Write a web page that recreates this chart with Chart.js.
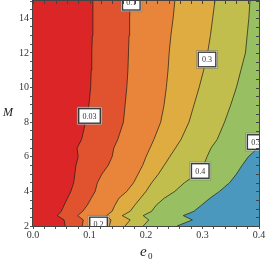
<!DOCTYPE html>
<html>
<head>
<meta charset="utf-8">
<script src="https://cdn.jsdelivr.net/npm/chart.js@4/dist/chart.umd.min.js"></script>
<style>
  html, body { margin: 0; padding: 0; background: #fff; }
  canvas { display: block; }
</style>
</head>
<body>
<canvas id="chart" width="266" height="261"></canvas>
<script>
const mGrid = [2, 2.35, 2.6, 2.85, 3.2, 3.6, 4, 4.5, 5, 5.5, 6, 6.5, 7, 8, 9, 10, 11, 12, 13, 14, 15];
// e0 position of each contour line
const e0Level003 = [0.057, 0.055, 0.043, 0.05, 0.055, 0.061, 0.067, 0.072, 0.074, 0.076, 0.08, 0.078, 0.086, 0.093, 0.099, 0.102, 0.103, 0.104, 0.105, 0.106, 0.106];
const e0Level01 = [0.087, 0.089, 0.079, 0.088, 0.096, 0.103, 0.11, 0.114, 0.122, 0.133, 0.14, 0.143, 0.15, 0.16, 0.163, 0.166, 0.168, 0.169, 0.17, 0.171, 0.172];
const e0Level02 = [0.135, 0.138, 0.13, 0.14, 0.145, 0.152, 0.166, 0.178, 0.186, 0.194, 0.2, 0.207, 0.214, 0.226, 0.232, 0.236, 0.239, 0.241, 0.244, 0.248, 0.251];
const e0Level03 = [0.163, 0.172, 0.158, 0.172, 0.18, 0.19, 0.2, 0.21, 0.222, 0.232, 0.242, 0.252, 0.262, 0.276, 0.285, 0.294, 0.302, 0.309, 0.314, 0.318, 0.322];
const e0Level04 = [0.195, 0.205, 0.195, 0.21, 0.218, 0.232, 0.251, 0.268, 0.29, 0.302, 0.308, 0.315, 0.326, 0.339, 0.35, 0.36, 0.368, 0.376, 0.379, 0.382, 0.384];
const e0Level05 = [0.255, 0.282, 0.266, 0.285, 0.298, 0.313, 0.33, 0.348, 0.36, 0.37, 0.381, 0.398, 0.41, 0.43, 0.45, 0.46, 0.47, 0.48, 0.49, 0.5, 0.5];
const levelNames = ["0.03", "0.1", "0.2", "0.3", "0.4", "0.5"];
// contour labels
const labelText = ["0.03", "0.1", "0.2", "0.3", "0.4", "0.5"];
const labelE0 = [0.1, 0.174, 0.116, 0.308, 0.296, 0.395];
const labelM = [8.36, 14.9, 2.09, 11.62, 5.18, 6.85];
// axes
const xMin = 0, xMax = 0.4, xStep = 0.02;
const yMin = 2, yMax = 15, yStep = 0.5;

const regionColors = ["#dc2526", "#e0532e", "#e8853a", "#dfac42", "#c1be4e", "#98c062", "#4b98bf"];
const serif = "'Liberation Serif', 'DejaVu Serif', serif";

const levels = [e0Level003, e0Level01, e0Level02, e0Level03, e0Level04, e0Level05];
const datasets = levels.map((vals, i) => ({
  label: levelNames[i],
  data: mGrid.map((m, j) => ({ x: vals[j], y: m })),
  borderColor: "rgba(35,30,25,0.9)",
  borderWidth: 0.8,
  pointRadius: 0,
  tension: 0,
  fill: { value: 1 },
  backgroundColor: regionColors[i + 1],
  order: levels.length - i,
}));

const bgPlugin = {
  id: "lowest_region",
  beforeDatasetsDraw: (chart) => {
    const { ctx, chartArea: a } = chart;
    ctx.save();
    ctx.fillStyle = regionColors[0];
    ctx.fillRect(a.left, a.top, a.right - a.left, a.bottom - a.top);
    ctx.restore();
  },
};

const overlayPlugin = {
  id: "labels_and_frame",
  afterDatasetsDraw: (chart) => {
    const { ctx, chartArea: a } = chart;
    const xs = chart.scales.x, ys = chart.scales.y;
    ctx.save();
    ctx.beginPath();
    ctx.rect(a.left, a.top, a.right - a.left, a.bottom - a.top);
    ctx.clip();
    ctx.font = "8px " + serif;
    ctx.textAlign = "center";
    ctx.textBaseline = "middle";
    labelText.forEach((t, i) => {
      const px = xs.getPixelForValue(labelE0[i]);
      const py = ys.getPixelForValue(labelM[i]);
      const w = ctx.measureText(t).width + 10;
      const h = 17;
      ctx.fillStyle = "#fff";
      ctx.fillRect(px - w / 2, py - h / 2, w, h);
      ctx.strokeStyle = "rgba(120,120,120,0.5)";
      ctx.lineWidth = 1;
      ctx.strokeRect(px - w / 2 - 0.5, py - h / 2 - 0.5, w + 1, h + 1);
      ctx.strokeStyle = "#3a3a3a";
      ctx.lineWidth = 1.4;
      ctx.strokeRect(px - w / 2 + 1.2, py - h / 2 + 1.2, w - 2.4, h - 2.4);
      ctx.fillStyle = "#333";
      ctx.fillText(t, px, py + 0.5);
    });
    ctx.restore();

    // frame with inward ticks on top and right
    ctx.save();
    ctx.strokeStyle = "#444";
    ctx.lineWidth = 1;
    ctx.strokeRect(a.left - 0.5, a.top - 0.5, a.right - a.left + 1, a.bottom - a.top + 1);
    ctx.beginPath();
    xs.ticks.forEach((t) => {
      const px = Math.round(xs.getPixelForValue(t.value)) + 0.5;
      ctx.moveTo(px, a.top);
      ctx.lineTo(px, a.top + 3);
    });
    ys.ticks.forEach((t) => {
      const py = Math.round(ys.getPixelForValue(t.value)) + 0.5;
      ctx.moveTo(a.right, py);
      ctx.lineTo(a.right - 3, py);
    });
    ctx.stroke();
    ctx.restore();
  },
  afterDraw: (chart) => {
    const ctx = chart.ctx;
    ctx.save();
    ctx.fillStyle = "#222";
    ctx.textBaseline = "alphabetic";
    ctx.textAlign = "center";
    ctx.font = "italic 12px " + serif;
    ctx.fillText("M", 8, 116);
    ctx.textAlign = "left";
    ctx.font = "italic 15px " + serif;
    ctx.fillText("e", 140, 256);
    ctx.font = "9px " + serif;
    ctx.fillText("0", 148, 259);
    ctx.restore();
  },
};

const isMultiple = (v, step) => Math.abs(v / step - Math.round(v / step)) < 1e-6;

new Chart(document.getElementById("chart"), {
  type: "line",
  data: { datasets },
  options: {
    indexAxis: "y",
    responsive: false,
    animation: false,
    events: [],
    layout: { padding: { top: 1, right: 7, left: 0, bottom: 0 } },
    plugins: { legend: { display: false }, tooltip: { enabled: false } },
    scales: {
      x: {
        type: "linear",
        min: xMin,
        max: xMax,
        ticks: {
          stepSize: xStep,
          autoSkip: false,
          maxRotation: 0,
          padding: 0,
          color: "#333",
          font: { family: serif, size: 10 },
          callback: (v) => (isMultiple(v, 0.1) ? v.toFixed(1) : ""),
        },
        grid: { drawOnChartArea: false, tickLength: 3, color: "#555" },
        border: { display: false },
        afterFit: (s) => {
          s.height = 35;
          s.paddingLeft = 0;
          s.paddingRight = 0;
        },
      },
      y: {
        type: "linear",
        min: yMin,
        max: yMax,
        ticks: {
          stepSize: yStep,
          autoSkip: false,
          padding: 1,
          color: "#333",
          font: { family: serif, size: 10 },
          callback: (v) => (isMultiple(v, 2) ? String(v) : ""),
        },
        grid: { drawOnChartArea: false, tickLength: 3, color: "#555" },
        border: { display: false },
        afterFit: (s) => {
          s.width = 33;
          s.paddingTop = 0;
          s.paddingBottom = 0;
        },
      },
    },
  },
  plugins: [bgPlugin, overlayPlugin],
});
</script>
</body>
</html>
